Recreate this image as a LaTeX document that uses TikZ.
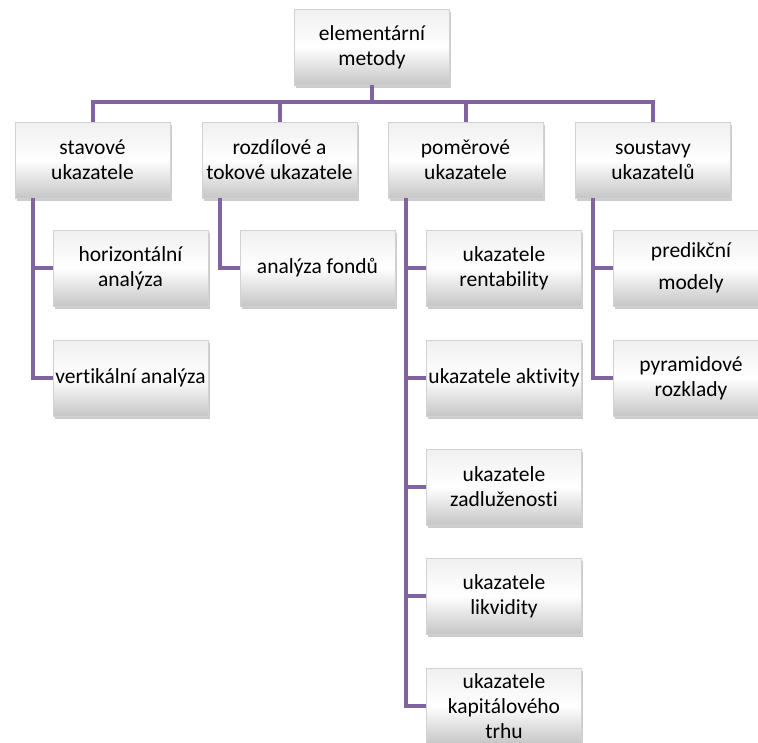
\documentclass[tikz,border=0pt]{standalone}
\usepackage{fontspec}
\setmainfont{Carlito}[Ligatures=NoCommon]
\usetikzlibrary{shadows}
\definecolor{fialova}{RGB}{128,100,162}

\begin{document}
\begin{tikzpicture}[x=1pt, y=-1pt,
    box/.style={draw=gray!35, line width=0.6pt, shading=axis, top color=gray!12,
        bottom color=gray!45, middle color=white, minimum width=155pt,
        minimum height=76pt, align=center, inner sep=1pt,
        font=\fontsize{21.5}{25}\selectfont,
        drop shadow={shadow xshift=1.5pt, shadow yshift=-2.5pt, opacity=0.4}},
    spoj/.style={draw=fialova, line width=4pt}]
    \useasboundingbox (0,0) rectangle (758,742);
    % Koren
    \node[box] (root) at (372,47) {elementární\\metody};
    % Prvni uroven
    \node[box] (stav) at (92.5,160) {stavové\\ukazatele};
    \node[box] (rozd) at (279.5,160) {rozdílové a\\tokové ukazatele};
    \node[box] (pom)  at (465.5,160) {poměrové\\ukazatele};
    \node[box] (sous) at (653,160) {soustavy\\ukazatelů};
    % Druha uroven
    \node[box] (horiz) at (130.5,268) {horizontální\\analýza};
    \node[box] (vert)  at (130.5,378) {vertikální analýza};
    \node[box] (fond)  at (317.5,268) {analýza fondů};
    \node[box] (rent)  at (504,268) {ukazatele\\rentability};
    \node[box] (akt)   at (504,378) {ukazatele aktivity};
    \node[box] (zadl)  at (504,487) {ukazatele\\zadluženosti};
    \node[box] (likv)  at (504,596) {ukazatele\\likvidity};
    \node[box] (kap)   at (504,706) {ukazatele\\kapitálového\\trhu};
    \node[box] (pred)  at (691,268) {predikční\\[7pt]modely};
    \node[box] (pyr)   at (691,378) {pyramidové\\rozklady};
    % Sbernice
    \coordinate (sbernice) at (372,102);
    \draw[spoj] (root.south) -- (sbernice);
    \foreach \n in {stav, rozd, pom, sous}
        \draw[spoj] (sbernice) -| (\n.north);
    % Vetve
    \foreach \r/\d in {stav/horiz, stav/vert, rozd/fond, pom/rent, pom/akt,
        pom/zadl, pom/likv, pom/kap, sous/pred, sous/pyr}
        \draw[spoj] ([xshift=18pt]\r.south west) |- (\d.west);
\end{tikzpicture}
\end{document}
